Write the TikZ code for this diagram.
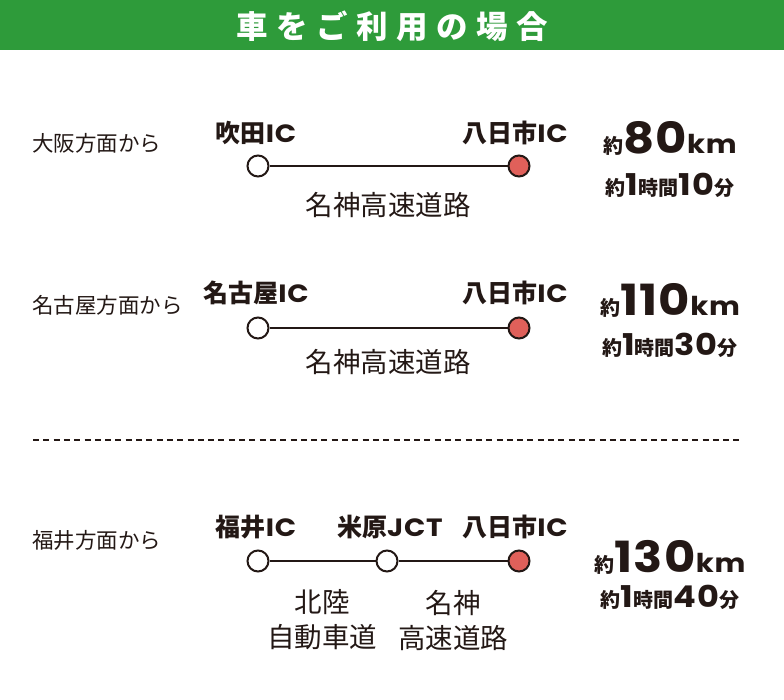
\documentclass[tikz,border=0pt]{standalone}
\usepackage{fontspec}
\setmainfont{Noto Sans CJK JP}
\newfontfamily\numfont{Poppins}[FakeStretch=1.12, LetterSpace=3]
\usepackage{tikz}
\usetikzlibrary{positioning}
\definecolor{ink}{HTML}{231815}
\definecolor{bandgreen}{HTML}{2E9B3A}
\definecolor{goalred}{HTML}{E0605A}
\tikzstyle{area} = [anchor=west, inner sep=0pt, text=ink, font=\fontsize{21.5}{24}\selectfont]
\tikzstyle{ic} = [inner sep=0pt, text=ink, font=\bfseries\fontsize{25}{28}\selectfont]
\tikzstyle{road} = [inner sep=0pt, text=ink, align=center, font=\fontsize{27.5}{35}\selectfont]
\tikzstyle{stop} = [circle, draw=ink, line width=2pt, fill=white, minimum size=21pt, inner sep=0pt]
\tikzstyle{goal} = [stop, fill=goalred]
\tikzstyle{link} = [draw=ink, line width=2pt]
\tikzstyle{dist} = [anchor=base, inner sep=0pt, text=ink, font=\bfseries]
\newcommand{\lat}[1]{{\numfont\bfseries #1}}
\newcommand{\km}[1]{{\fontsize{20}{22}\selectfont 約}{\numfont\bfseries\fontsize{43}{46}\selectfont #1}{\numfont\bfseries\fontsize{26}{28}\selectfont km}}
\newcommand{\hm}[2]{{\fontsize{20}{22}\selectfont 約}{\numfont\bfseries\fontsize{30}{32}\selectfont #1}{\fontsize{20}{22}\selectfont 時間}{\numfont\bfseries\fontsize{30}{32}\selectfont #2}{\fontsize{20}{22}\selectfont 分}}
\newcommand{\gp}{\hspace{8.5pt}}
\begin{document}
\begin{tikzpicture}[x=1pt, y=-1pt]
\useasboundingbox (0,0) rectangle (784,699);
% header
\fill[bandgreen] (0,0) rectangle (784,50);
\node (title) at (392,26) [text=white, font=\bfseries\fontsize{31.5}{34}\selectfont] {車\gp を\gp ご\gp 利\gp 用\gp の\gp 場\gp 合};

% from osaka
\node (osaka) [area] at (32,143) {大阪方面から};
\node (suita) [stop] at (258,166) {};
\node (yokaichiA) [goal] at (519,166) {};
\draw [link] (suita) -- (yokaichiA);
\node (suitaic) [ic] at (256,133) {吹田\lat{IC}};
\node (yokaichiAic) [ic] at (515,133) {八日市\lat{IC}};
\node (meishinA) [road] at (388,205) {名神高速道路};
\node (kmA) [dist] at (670,153) {\km{80}};
\node (timeA) [dist] at (670,195) {\hm{1}{10}};

% from nagoya
\node (nagoya) [area] at (32,305) {名古屋方面から};
\node (nagoyastop) [stop] at (258,328) {};
\node (yokaichiB) [goal] at (519,328) {};
\draw [link] (nagoyastop) -- (yokaichiB);
\node (nagoyaic) [ic] at (256,293) {名古屋\lat{IC}};
\node (yokaichiBic) [ic] at (515,293) {八日市\lat{IC}};
\node (meishinB) [road] at (388,362) {名神高速道路};
\node (kmB) [dist] at (670,315) {\km{110}};
\node (timeB) [dist] at (670,355) {\hm{1}{30}};

% separator
\coordinate (sepL) at (33,440);
\coordinate (sepR) at (742,440);
\draw [ink, line width=2pt, dash pattern=on 6pt off 4.3pt] (sepL) -- (sepR);

% from fukui
\node (fukui) [area] at (32,540) {福井方面から};
\node (fukuistop) [stop] at (258,561) {};
\node (maibara) [stop] at (387,561) {};
\node (yokaichiC) [goal] at (519,561) {};
\draw [link] (fukuistop) -- (maibara);
\draw [link] (maibara) -- (yokaichiC);
\node (fukuiic) [ic] at (256,527) {福井\lat{IC}};
\node (maibarajct) [ic] at (390,527) {米原\lat{JCT}};
\node (yokaichiCic) [ic] at (515,527) {八日市\lat{IC}};
\node (hokuriku) [road] at (322,620) {北陸\\自動車道};
\node (meishinC) [road] at (453,620) {名神\\高速道路};
\node (kmC) [dist] at (670,572) {\km{130}};
\node (timeC) [dist] at (670,607) {\hm{1}{40}};
\end{tikzpicture}
\end{document}
